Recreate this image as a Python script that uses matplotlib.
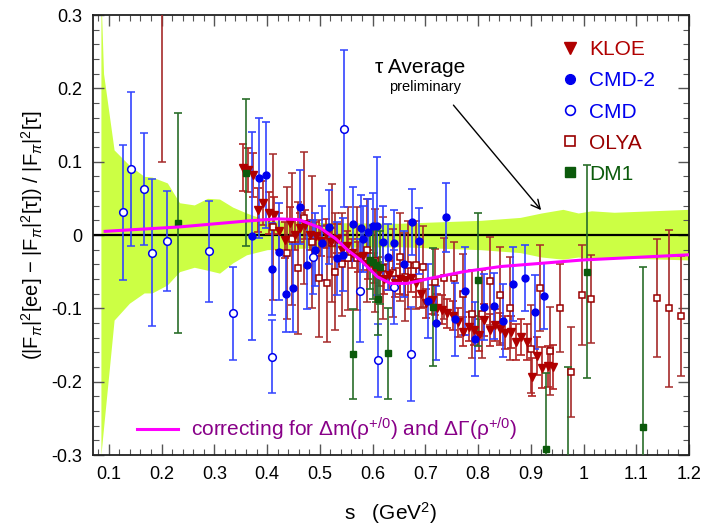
import matplotlib
matplotlib.use("Agg")
import matplotlib.pyplot as plt
from matplotlib.lines import Line2D
from matplotlib.ticker import MultipleLocator, FuncFormatter
import numpy as np

plt.rcParams['font.family'] = ['Liberation Sans', 'DejaVu Sans']
plt.rcParams['mathtext.fontset'] = 'custom'
plt.rcParams['mathtext.rm'] = 'Liberation Sans'
plt.rcParams['mathtext.it'] = 'Liberation Sans:italic'
plt.rcParams['axes.unicode_minus'] = False

# tau average error band (upper / lower edges)
band_s_hi = [0.085, 0.09, 0.11, 0.139, 0.167, 0.182, 0.211, 0.234, 0.262, 0.287, 0.31, 0.335, 0.361, 0.40,
             0.5, 0.65, 0.805, 0.88, 0.92, 0.961, 0.99, 1.015, 1.058, 1.2]
band_hi = [0.33, 0.22, 0.116, 0.095, 0.08, 0.079, 0.071, 0.044, 0.041, 0.05, 0.049, 0.038, 0.03, 0.02,
           0.017, 0.016, 0.02, 0.024, 0.03, 0.035, 0.03, 0.033, 0.031, 0.035]
band_lo = [-0.30, -0.263, -0.116, -0.093, -0.079, -0.079, -0.068, -0.05, -0.044, -0.048, -0.052, -0.038, -0.027, -0.02,
           -0.017, -0.016, -0.02, -0.024, -0.03, -0.033, -0.03, -0.032, -0.031, -0.034]

# rho mass/width correction curve
curve_s = [0.093, 0.234, 0.36, 0.42, 0.46, 0.50, 0.53, 0.552, 0.577, 0.609, 0.634, 0.666, 0.71, 0.773, 0.843, 1.0, 1.2]
curve_y = [0.005, 0.011, 0.019, 0.022, 0.021, 0.010, -0.005, -0.020, -0.034, -0.057, -0.066, -0.066, -0.059, -0.050, -0.043, -0.034, -0.027]

kloe_s = [0.354, 0.363, 0.373, 0.382, 0.392, 0.403, 0.413, 0.423, 0.434, 0.443, 0.453, 0.463, 0.472, 0.482, 0.492,
          0.502, 0.512, 0.522, 0.532, 0.542, 0.552, 0.562, 0.572, 0.582, 0.592, 0.602, 0.612, 0.622, 0.632, 0.642,
          0.652, 0.662, 0.672, 0.682, 0.692, 0.702, 0.712, 0.722, 0.732, 0.742, 0.752, 0.762, 0.772, 0.782, 0.792,
          0.802, 0.812, 0.822, 0.832, 0.842, 0.852, 0.862, 0.872, 0.882, 0.892, 0.902, 0.912, 0.922, 0.932, 0.942]
kloe_y = [0.092, 0.088, 0.082, 0.034, 0.044, 0.030, 0.027, 0.005, -0.007, 0.016, 0.000, 0.010, 0.014, 0.000, -0.002,
          -0.008, 0.002, -0.010, -0.005, -0.020, -0.015, -0.025, -0.030, -0.028, -0.040, -0.045, -0.050, -0.060, -0.055, -0.065,
          -0.060, -0.062, -0.058, -0.065, -0.080, -0.093, -0.088, -0.100, -0.102, -0.107, -0.110, -0.119, -0.132, -0.125, -0.130,
          -0.136, -0.116, -0.130, -0.123, -0.128, -0.133, -0.132, -0.146, -0.139, -0.146, -0.194, -0.165, -0.181, -0.179, -0.180]
kloe_e = [0.032, 0.03, 0.03, 0.03, 0.03, 0.028, 0.025, 0.025, 0.025, 0.022, 0.02, 0.02, 0.02, 0.02, 0.02,
          0.02, 0.02, 0.02, 0.02, 0.02, 0.02, 0.02, 0.02, 0.02, 0.02, 0.02, 0.02, 0.02, 0.02, 0.02,
          0.02, 0.02, 0.02, 0.02, 0.02, 0.02, 0.02, 0.02, 0.02, 0.02, 0.02, 0.02, 0.02, 0.02, 0.02,
          0.022, 0.022, 0.022, 0.022, 0.022, 0.022, 0.022, 0.024, 0.024, 0.024, 0.026, 0.026, 0.028, 0.028, 0.03]

cmd2_s = [0.371, 0.384, 0.398, 0.409, 0.422, 0.436, 0.449, 0.462, 0.476, 0.490, 0.504, 0.518, 0.533, 0.544, 0.563,
          0.579, 0.582, 0.592, 0.600, 0.609, 0.620, 0.630, 0.641, 0.659, 0.674, 0.689, 0.706, 0.721, 0.739, 0.756,
          0.775, 0.794, 0.811, 0.830, 0.847, 0.866, 0.889, 0.908, 0.925]
cmd2_y = [-0.001, 0.078, 0.082, -0.046, -0.023, -0.080, -0.072, 0.038, -0.041, -0.020, -0.011, 0.011, -0.032, -0.027, 0.015,
          0.009, -0.006, 0.004, 0.012, 0.012, -0.010, -0.030, -0.011, -0.039, 0.018, -0.008, -0.090, -0.120, 0.024, -0.115,
          -0.076, -0.142, -0.098, -0.097, -0.117, -0.067, -0.058, -0.105, -0.083]
cmd2_e = [0.142, 0.082, 0.072, 0.063, 0.066, 0.052, 0.060, 0.050, 0.060, 0.050, 0.050, 0.050, 0.050, 0.050, 0.050,
          0.045, 0.045, 0.045, 0.045, 0.094, 0.050, 0.045, 0.045, 0.045, 0.045, 0.045, 0.050, 0.050, 0.047, 0.050,
          0.060, 0.050, 0.045, 0.045, 0.050, 0.050, 0.045, 0.050, 0.045]

cmd_s = [0.127, 0.142, 0.167, 0.182, 0.210, 0.289, 0.335, 0.409, 0.487, 0.546, 0.577, 0.611, 0.640, 0.672]
cmd_y = [0.031, 0.090, 0.063, -0.024, -0.008, -0.022, -0.107, -0.166, -0.030, 0.145, -0.076, -0.171, -0.071, -0.162]
cmd_e = [0.092, 0.105, 0.076, 0.100, 0.068, 0.069, 0.063, 0.050, 0.050, 0.107, 0.070, 0.050, 0.050, 0.064]

olya_s = [0.200, 0.411, 0.438, 0.447, 0.459, 0.470, 0.485, 0.499, 0.514, 0.523, 0.529, 0.542, 0.554, 0.571, 0.590,
          0.605, 0.620, 0.638, 0.653, 0.662, 0.668, 0.682, 0.696, 0.718, 0.735, 0.754, 0.771, 0.788, 0.807, 0.822,
          0.841, 0.860, 0.900, 0.918, 0.937, 0.956, 0.977, 0.998, 1.015, 1.140, 1.162, 1.184]
olya_y = [0.32, 0.011, -0.025, -0.005, -0.045, 0.023, -0.010, -0.059, -0.066, -0.011, -0.050, -0.040, -0.032, -0.032, -0.021,
          -0.035, -0.045, -0.052, -0.030, -0.057, -0.041, -0.041, -0.043, -0.064, -0.059, -0.059, -0.081, -0.108, -0.108, -0.063,
          -0.082, -0.100, -0.156, -0.072, -0.158, -0.100, -0.187, -0.082, -0.087, -0.086, -0.100, -0.110]
olya_e = [0.22, 0.10, 0.09, 0.09, 0.09, 0.09, 0.09, 0.08, 0.08, 0.08, 0.08, 0.07, 0.07, 0.07, 0.07,
          0.07, 0.07, 0.06, 0.06, 0.06, 0.06, 0.06, 0.055, 0.045, 0.055, 0.05, 0.055, 0.06, 0.06, 0.06,
          0.065, 0.07, 0.06, 0.059, 0.06, 0.06, 0.061, 0.068, 0.06, 0.08, 0.107, 0.082]

dm1_s = [0.232, 0.361, 0.563, 0.596, 0.601, 0.607, 0.611, 0.615, 0.630, 0.714, 0.800, 0.929, 0.971, 1.007, 1.112]
dm1_y = [0.016, 0.085, -0.162, -0.034, -0.037, -0.041, -0.087, -0.044, -0.161, -0.098, -0.061, -0.292, -0.33, -0.050, -0.262]
dm1_e = [0.150, 0.100, 0.061, 0.040, 0.050, 0.050, 0.050, 0.050, 0.062, 0.080, 0.091, 0.104, 0.150, 0.145, 0.218]

c_kloe = '#b00000'
c_olya = '#990000'
c_cmd = '#0000ee'
c_dm1 = '#0b5a0b'
c_band = '#ccff44'
c_curve = '#ff00ff'

fig = plt.figure(figsize=(7.04, 5.28), dpi=100)
ax = fig.add_axes([93 / 704, 73 / 528, 596 / 704, 440 / 528])

# band: both edges share the same s grid
ax.fill_between(band_s_hi, band_lo, band_hi, color=c_band, lw=0, zorder=1)
ax.axhline(0, color='black', lw=1.6, zorder=2)

eb = dict(capsize=2.8, elinewidth=1.2, capthick=1.2, zorder=3)
ax.errorbar(olya_s, olya_y, yerr=olya_e, fmt='s', ms=5, mfc='white', mec=c_olya, mew=1.1,
            ecolor='#a52a2a', **eb)
ax.errorbar(kloe_s, kloe_y, yerr=kloe_e, fmt='v', ms=5.5, color=c_kloe, ecolor='#b22222', **eb)
ax.errorbar(cmd2_s, cmd2_y, yerr=cmd2_e, fmt='o', ms=5, color=c_cmd, ecolor='#3344ff', **eb)
ax.errorbar(cmd_s, cmd_y, yerr=cmd_e, fmt='o', ms=5.5, mfc='white', mec=c_cmd, mew=1.1, ecolor='#3344ff', **eb)
ax.errorbar(dm1_s, dm1_y, yerr=dm1_e, fmt='s', ms=5, color=c_dm1, ecolor='#2a6e2a', **eb)

ax.plot(curve_s, curve_y, color=c_curve, lw=2.2, zorder=4)

ax.set_xlim(0.07, 1.2)
ax.set_ylim(-0.3, 0.3)
ax.xaxis.set_major_locator(MultipleLocator(0.1))
ax.xaxis.set_minor_locator(MultipleLocator(0.02))
ax.yaxis.set_major_locator(MultipleLocator(0.1))
ax.yaxis.set_minor_locator(MultipleLocator(0.02))
fmt = FuncFormatter(lambda v, p: '%g' % round(v, 2))
ax.xaxis.set_major_formatter(fmt)
ax.yaxis.set_major_formatter(fmt)
ax.tick_params(which='both', direction='in', top=True, right=True, labelsize=13, color='#555555')
ax.tick_params(which='major', length=8, width=1.0, pad=8)
ax.tick_params(which='minor', length=4.5, width=0.8)
for sp in ax.spines.values():
    sp.set_linewidth(1.3)
    sp.set_color('#222222')

ax.set_xlabel('s   (GeV$^2$)', fontsize=15, labelpad=12)
ax.set_ylabel('(|F$_{π}$|$^2$[ee] $-$ |F$_{π}$|$^2$[τ]) / |F$_{π}$|$^2$[τ]', fontsize=14.5, labelpad=4)

ax.text(0.691, 0.229, 'τ Average', fontsize=15, ha='center', va='center')
ax.text(0.699, 0.202, 'preliminary', fontsize=10.5, ha='center', va='center')
ax.annotate('', xy=(0.923, 0.031), xytext=(0.75, 0.18),
            arrowprops=dict(arrowstyle='->', lw=1.0, color='black', mutation_scale=16))

handles = [Line2D([], [], ls='none', marker='v', ms=8, color=c_kloe),
           Line2D([], [], ls='none', marker='o', ms=7, color=c_cmd),
           Line2D([], [], ls='none', marker='o', ms=7, mfc='white', mec=c_cmd, mew=1.2),
           Line2D([], [], ls='none', marker='s', ms=7, mfc='white', mec=c_olya, mew=1.2),
           Line2D([], [], ls='none', marker='s', ms=7, color=c_dm1)]
labels = ['KLOE', 'CMD-2', 'CMD', 'OLYA', 'DM1']
leg = ax.legend(handles, labels, loc='upper left', bbox_to_anchor=(0.755, 0.985), frameon=False,
                fontsize=15, handlelength=0.8, handletextpad=0.5, labelspacing=0.58,
                labelcolor=[c_kloe, c_cmd, c_cmd, c_olya, c_dm1])
ax.add_artist(leg)

ax.legend([Line2D([], [], color=c_curve, lw=2.2)],
          ['correcting for Δm(ρ$^{+/0}$) and ΔΓ(ρ$^{+/0}$)'],
          loc='lower left', bbox_to_anchor=(0.042, -0.015), frameon=False, fontsize=15,
          handlelength=2.0, handletextpad=0.6, labelcolor='#880088')

fig.savefig('out.png', dpi=100)
